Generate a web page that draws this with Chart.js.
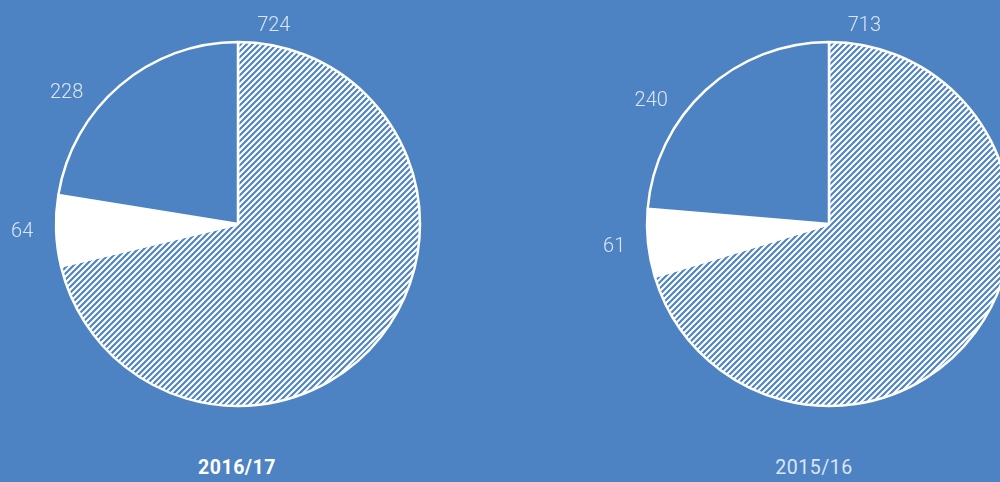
<!DOCTYPE html>
<html>
<head>
    <title>2016/17 vs 2015/16</title>
    <script src="https://cdn.jsdelivr.net/npm/chart.js"></script>
    <style>
        html, body {
            margin: 0;
            padding: 0;
            width: 1000px;
            height: 482px;
            overflow: hidden;
            background-color: #4d83c3;
            font-family: Roboto, "Noto Sans", sans-serif;
        }
        .pie {
            position: absolute;
            top: 0;
            width: 476px;
            height: 448px;
        }
        .caption {
            position: absolute;
            top: 456px;
            width: 200px;
            text-align: center;
            font-size: 19.5px;
            letter-spacing: 0.5px;
            color: #dbe6f4;
        }
    </style>
</head>
<body>

<div class="pie" style="left: 0;"><canvas id="pie1"></canvas></div>
<div class="pie" style="left: 591px;"><canvas id="pie2"></canvas></div>
<div class="caption" style="left: 137px; color: #ffffff; font-weight: bold;" id="cap1"></div>
<div class="caption" style="left: 714px;" id="cap2"></div>

<script>
// values: hatched, white, plain slice
const seasons = ['2016/17', '2015/16'];
const values1617 = [724, 64, 228];
const values1516 = [713, 61, 240];

const BG = '#4d83c3';
const LABEL = '#dbe6f4';

// diagonal white stripes for the big slice
function stripes() {
    const size = 6;
    const c = document.createElement('canvas');
    c.width = size;
    c.height = size;
    const g = c.getContext('2d');
    g.fillStyle = BG;
    g.fillRect(0, 0, size, size);
    g.strokeStyle = '#ffffff';
    g.lineWidth = 2.2;
    g.beginPath();
    g.moveTo(-1, size + 1);
    g.lineTo(size + 1, -1);
    g.moveTo(-1, 1);
    g.lineTo(1, -1);
    g.moveTo(size - 1, size + 1);
    g.lineTo(size + 1, size - 1);
    g.stroke();
    return g.createPattern(c, 'repeat');
}

// value labels outside the pie; fraction = where along the slice the label sits
const outsideLabels = {
    id: 'outsideLabels',
    afterDatasetsDraw(chart, args, opts) {
        const ctx = chart.ctx;
        const meta = chart.getDatasetMeta(0);
        const data = chart.data.datasets[0].data;
        ctx.save();
        ctx.font = '300 20px Roboto';
        ctx.fillStyle = LABEL;
        ctx.textAlign = 'center';
        ctx.textBaseline = 'middle';
        meta.data.forEach((arc, i) => {
            const p = arc.getProps(['x', 'y', 'startAngle', 'endAngle', 'outerRadius'], true);
            const a = p.startAngle + (p.endAngle - p.startAngle) * opts.fraction[i];
            const r = p.outerRadius + opts.gap[i];
            ctx.fillText(String(data[i]), p.x + Math.cos(a) * r, p.y + Math.sin(a) * r);
        });
        ctx.restore();
    }
};

function makePie(id, values) {
    return new Chart(document.getElementById(id), {
        type: 'pie',
        data: {
            labels: ['a', 'b', 'c'],
            datasets: [{
                data: values,
                backgroundColor: [stripes(), '#ffffff', BG],
                borderColor: '#ffffff',
                borderWidth: 2.5
            }]
        },
        options: {
            responsive: true,
            maintainAspectRatio: false,
            animation: false,
            radius: 182,
            layout: { padding: 0 },
            plugins: {
                legend: { display: false },
                tooltip: { enabled: false },
                outsideLabels: { fraction: [0.04, 0.5, 0.35], gap: [19, 34, 34] }
            }
        },
        plugins: [outsideLabels]
    });
}

makePie('pie1', values1617);
makePie('pie2', values1516);
document.getElementById('cap1').textContent = seasons[0];
document.getElementById('cap2').textContent = seasons[1];
</script>

</body>
</html>
